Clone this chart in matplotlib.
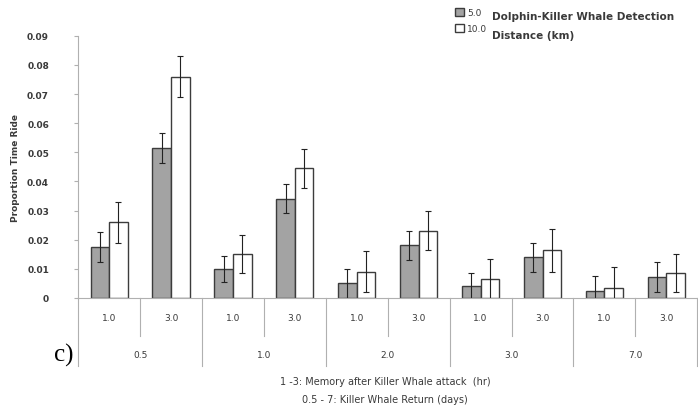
import matplotlib
matplotlib.use("Agg")
import matplotlib.pyplot as plt
import numpy as np

# return days (groups) and memory hours (sub-categories)
groups = ["0.5", "1.0", "2.0", "3.0", "7.0"]
memory = ["1.0", "3.0"]

# proportion time ride, 5.0 km and 10.0 km detection distance
ride_5km = [0.0175, 0.0515, 0.0098, 0.034, 0.005, 0.018, 0.004, 0.014, 0.0025, 0.0072]
ride_10km = [0.026, 0.076, 0.015, 0.0445, 0.009, 0.023, 0.0065, 0.0163, 0.0035, 0.0085]
err_5km = [0.005, 0.005, 0.0045, 0.005, 0.005, 0.005, 0.0045, 0.005, 0.005, 0.0053]
err_10km = [0.007, 0.007, 0.0065, 0.0068, 0.007, 0.0067, 0.007, 0.0075, 0.007, 0.0065]

plt.rcParams["font.family"] = ["DejaVu Sans"]
txt = "#3a3a3a"
axc = "#b0b0b0"

fig = plt.figure(figsize=(6.98, 4.14), dpi=100)
ax = fig.add_axes([0.112, 0.278, 0.887, 0.633])

x = np.arange(len(ride_5km))
w = 0.3
ax.bar(x - w / 2, ride_5km, w, color="#a3a3a3", edgecolor="#3c3c3c", linewidth=1.0,
       yerr=err_5km, error_kw=dict(ecolor="#222222", elinewidth=0.8, capsize=2.5, capthick=0.8),
       label="5.0")
ax.bar(x + w / 2, ride_10km, w, color="white", edgecolor="#3c3c3c", linewidth=1.0,
       yerr=err_10km, error_kw=dict(ecolor="#222222", elinewidth=0.8, capsize=2.5, capthick=0.8),
       label="10.0")

ax.set_xlim(-0.5, len(x) - 0.5)
ax.set_ylim(0, 0.09)
ax.set_yticks(np.arange(0, 0.091, 0.01))
ax.set_yticklabels(["0"] + ["%.2f" % v for v in np.arange(0.01, 0.091, 0.01)])
ax.tick_params(axis="y", length=3, width=0.8, color=axc, pad=18, labelsize=6.5, labelcolor=txt)
for lab in ax.get_yticklabels():
    lab.set_fontweight("bold")
ax.set_xticks([])

for s in ["top", "right"]:
    ax.spines[s].set_visible(False)
ax.spines["left"].set_color(axc)
ax.spines["bottom"].set_color(axc)

ax.set_ylabel("Proportion Time Ride", fontsize=6.5, fontweight="bold", color=txt, labelpad=5)

# two level category axis
tr = ax.get_xaxis_transform()
for i in range(len(x)):
    ax.text(i, -0.075, memory[i % 2], transform=tr, ha="center", va="center",
            fontsize=6.5, color=txt)
for gi, g in enumerate(groups):
    ax.text(2 * gi + 0.5, -0.215, g, transform=tr, ha="center", va="center",
            fontsize=6.5, color=txt)
for b in np.arange(-0.5, len(x), 1.0):
    if int(b + 0.5) % 2 == 0:
        ax.plot([b, b], [0, -0.26], transform=tr, color=axc, lw=0.8, clip_on=False)
    else:
        ax.plot([b, b], [0, -0.145], transform=tr, color=axc, lw=0.8, clip_on=False)

fig.text(0.552, 0.077, "1 -3: Memory after Killer Whale attack  (hr)", ha="center", va="center",
         fontsize=7, color=txt)
fig.text(0.552, 0.034, "0.5 - 7: Killer Whale Return (days)", ha="center", va="center",
         fontsize=7, color=txt)
fig.text(0.078, 0.142, "c)", ha="left", va="center", fontsize=18, family="Liberation Serif")

leg = fig.legend(loc="upper left", bbox_to_anchor=(0.643, 0.993), frameon=False, fontsize=6.5,
                 handlelength=1.0, handleheight=0.9, handletextpad=0.3, labelspacing=0.75,
                 borderpad=0.2)
for t in leg.get_texts():
    t.set_color(txt)
fig.text(0.705, 0.958, "Dolphin-Killer Whale Detection", ha="left", va="center",
         fontsize=7.5, fontweight="bold", color=txt)
fig.text(0.705, 0.913, "Distance (km)", ha="left", va="center",
         fontsize=7.5, fontweight="bold", color=txt)

fig.savefig("out.png", dpi=100)
